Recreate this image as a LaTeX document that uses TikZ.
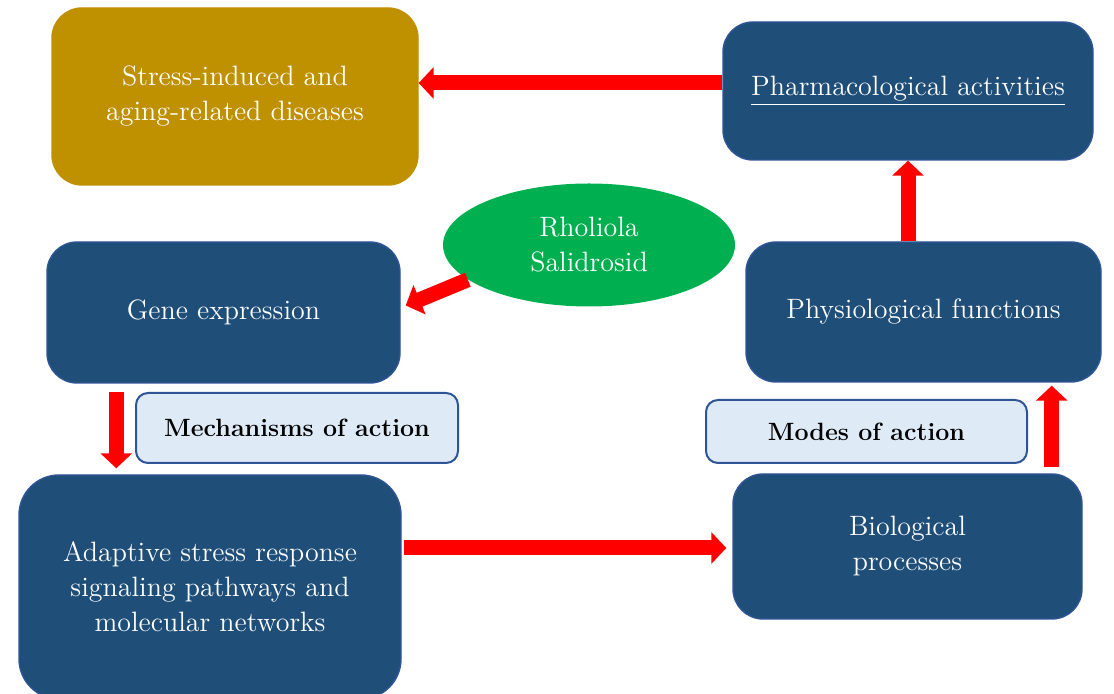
\documentclass[tikz,border=0pt]{standalone}
\usepackage{tikz}
\usetikzlibrary{positioning,shapes,calc,arrows.meta}

\definecolor{boxblue}{HTML}{1F4E79}
\definecolor{edgeblue}{HTML}{2F5597}
\definecolor{paleblue}{HTML}{DEEBF7}
\definecolor{goldbox}{HTML}{BF9000}
\definecolor{leafgreen}{HTML}{00B050}

\tikzset{
	bluebox/.style={draw=edgeblue, line width=0.7pt, fill=boxblue, rounded corners=15pt, text=white, align=center, inner sep=0pt, font=\fontsize{14}{17.5}\selectfont},
	labelbox/.style={draw=edgeblue, line width=1pt, fill=paleblue, rounded corners=6pt, align=center, inner sep=0pt, font=\fontsize{12.5}{15}\selectfont\bfseries},
	redarrow/.style={draw=red, line width=7.5pt, -{Triangle[width=15.5pt,length=7.5pt]}}
}

\begin{document}
\begin{tikzpicture}[x=0.5pt,y=-0.5pt]
			\useasboundingbox (0,0) rectangle (1114,694);
			
			\node[bluebox, fill=goldbox, draw=goldbox, minimum width=183pt, minimum height=88.5pt] (dis) at (235, 96.5) {Stress-induced and\\aging-related diseases};
			\node[bluebox, minimum width=185pt, minimum height=69pt] (pharm) at (908, 91) {\underline{Pharmacological activities}};
			\node[ellipse, fill=leafgreen, text=white, align=center, inner sep=0pt, minimum width=146pt, minimum height=61.5pt, font=\fontsize{14}{17.5}\selectfont] (ell) at (589, 245) {Rholiola\\Salidrosid};
			\node[bluebox, minimum width=176.5pt, minimum height=70.5pt] (gene) at (223.5, 312.5) {Gene expression};
			\node[bluebox, minimum width=177.5pt, minimum height=70pt] (physio) at (923.5, 312) {Physiological functions};
			\node[labelbox, minimum width=161pt, minimum height=35pt] (mech) at (297, 428) {Mechanisms of action};
			\node[labelbox, minimum width=160.5pt, minimum height=31.5pt] (modes) at (866.5, 431.5) {Modes of action};
			\node[bluebox, rounded corners=20pt, minimum width=191pt, minimum height=112pt] (adapt) at (210, 587) {Adaptive stress response\\signaling pathways and\\molecular networks};
			\node[bluebox, minimum width=174.5pt, minimum height=72.5pt] (bio) at (907.5, 546.5) {Biological\\processes};
			
			\draw[redarrow] ([yshift=4pt]pharm.west) -- ([yshift=6.75pt]dis.east);
			\draw[redarrow] (pharm.south |- physio.north) -- (pharm.south);
			\draw[redarrow] (ell.196) -- ([shift={(5,-7)}]gene.east);
			\draw[redarrow] ([shift={(70,8)}]gene.south west) -- ([shift={(98,-6)}]adapt.north west);
			\draw[redarrow] ([shift={(2,-39)}]adapt.east) -- ([shift={(-6,1.5)}]bio.west);
			\draw[redarrow] ([shift={(-31,-6)}]bio.north east) -- ([shift={(-50,3)}]physio.south east);
			
\end{tikzpicture}
\end{document}
